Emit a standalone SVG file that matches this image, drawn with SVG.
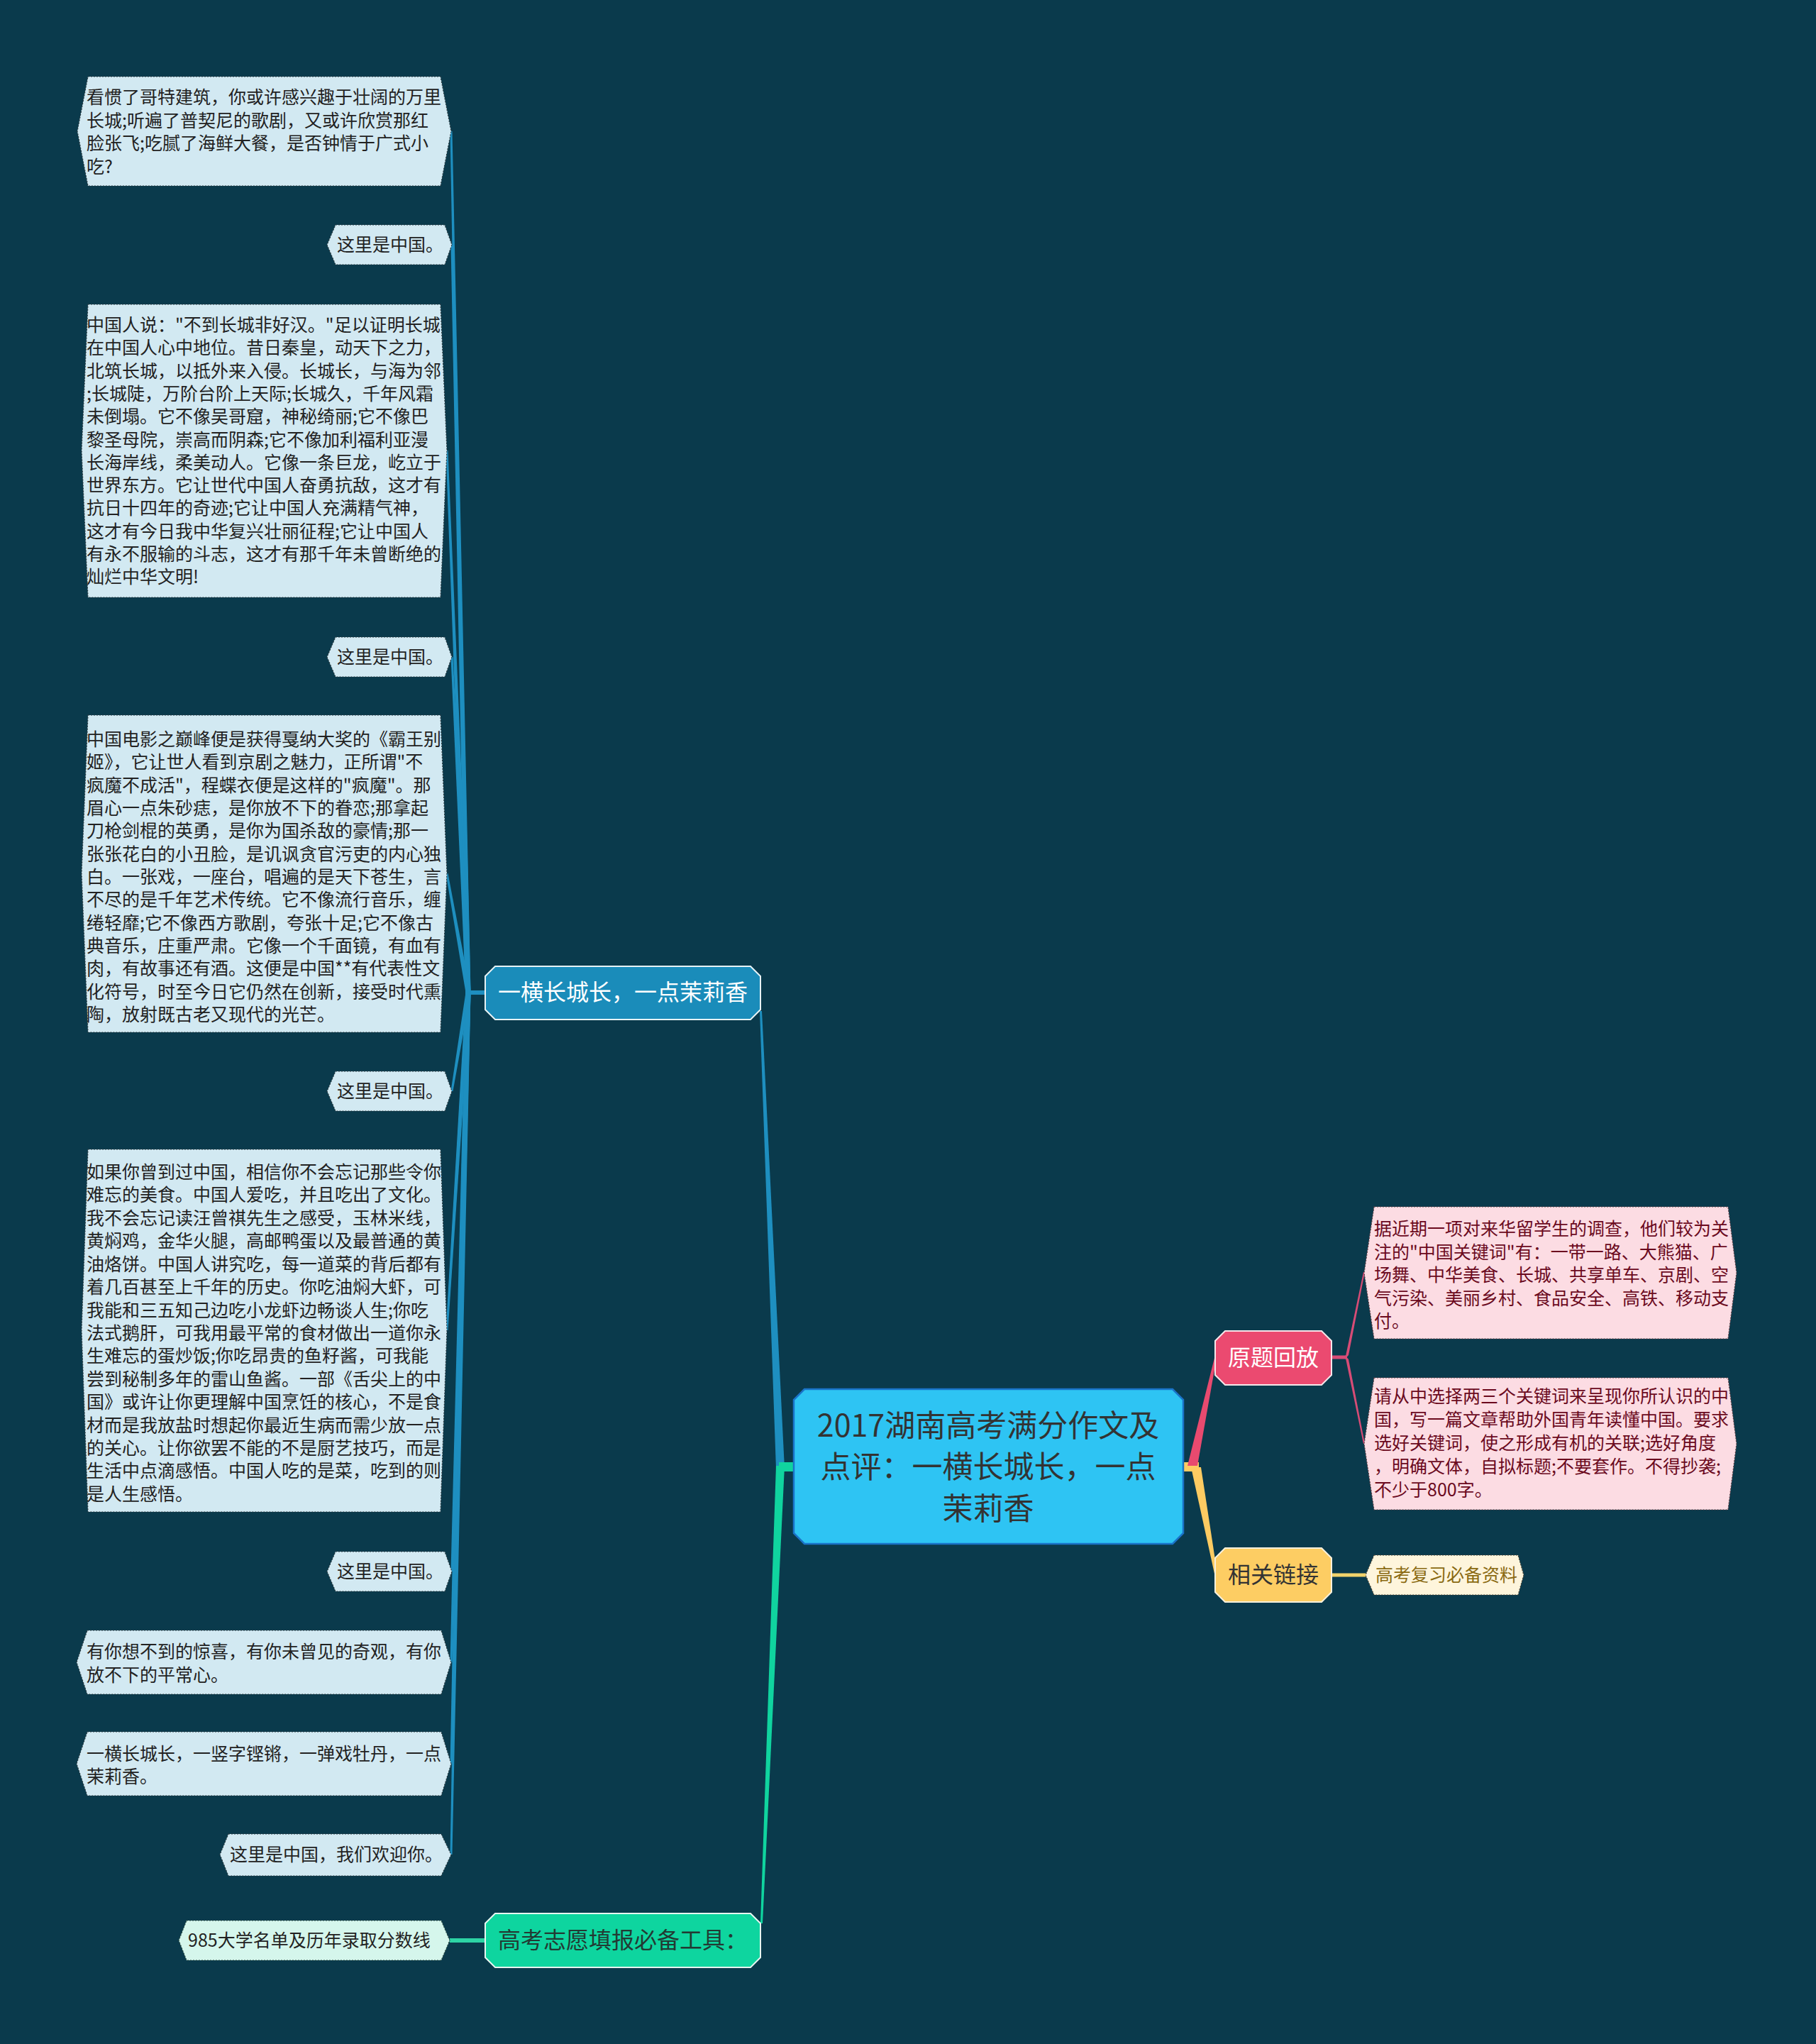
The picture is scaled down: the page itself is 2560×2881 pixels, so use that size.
<svg xmlns="http://www.w3.org/2000/svg" width="2560" height="2881" viewBox="0 0 2560 2881">
<style>
text{font-family:"Noto Sans CJK SC","Noto Sans",sans-serif}
.leaf{fill:#D2E9F2;stroke:#2a3a40;stroke-width:1.2;stroke-dasharray:2 2}
.lt{font-size:25px;fill:#222}
.pink{fill:#FCDCE3;stroke:#5a3a40;stroke-width:1.2;stroke-dasharray:2 2}
.pt{font-size:25px;fill:#6B0A1E}
.cream{fill:#FEF5DC;stroke:#4a4030;stroke-width:1.2;stroke-dasharray:2 2}
.mint{fill:#D5F6EC;stroke:#2a4a40;stroke-width:1.2;stroke-dasharray:2 2}
.bt{font-size:32px;text-anchor:middle}
.bl{fill:#1E8FC0}
</style>
<rect x="0" y="0" width="2560" height="2881" fill="#0A3A4C"/>
<g id="connectors">
  <polygon points="1094,2070 1106,2070 1074,1425 1071,1425" fill="#1E8FC0"/>
  <polygon points="1094,2066 1106,2066 1075,2711 1072,2711" fill="#10D49F"/>
  <rect x="1098" y="2061" width="22" height="13" fill="#10D49F"/>
  <rect x="1667" y="2061" width="23" height="13" fill="#FDCB62"/>
  <polygon points="1674,2066 1688,2066 1715,1914 1712,1914" fill="#E84A6F"/>
  <polygon points="1679,2068 1693,2068 1716,2218 1712,2218" fill="#FDCB62"/>
  <line x1="1877" y1="2220" x2="1926" y2="2220" stroke="#F2D36B" stroke-width="5"/>
  <line x1="1877" y1="1913" x2="1899" y2="1913" stroke="#D84C76" stroke-width="5"/>
  <polygon points="1896,1916 1901,1910 1924,1793 1922,1793" fill="#D84C76"/>
  <polygon points="1896,1910 1901,1916 1924,2035 1922,2035" fill="#D84C76"/>
  <line x1="634" y1="2735" x2="685" y2="2735" stroke="#2DD4A5" stroke-width="6"/>
  <line x1="657" y1="1399" x2="685" y2="1399" stroke="#1E8FC0" stroke-width="6"/>
  <polygon class="bl" points="656.5,1399 663.5,1399 637.5,185 634.5,185"/>
  <polygon class="bl" points="656.5,1399 663.5,1399 638.5,345 635.5,345"/>
  <polygon class="bl" points="656.5,1399 663.5,1399 631.5,635 628.5,635"/>
  <polygon class="bl" points="656.5,1399 663.5,1399 638.5,926 635.5,926"/>
  <polygon class="bl" points="656.5,1399 663.5,1399 631.5,1231 628.5,1231"/>
  <polygon class="bl" points="656.5,1399 663.5,1399 638.5,1538 635.5,1538"/>
  <polygon class="bl" points="656.5,1399 663.5,1399 631.5,1875 628.5,1875"/>
  <polygon class="bl" points="656.5,1399 663.5,1399 638.5,2215 635.5,2215"/>
  <polygon class="bl" points="656.5,1399 663.5,1399 637.5,2343 634.5,2343"/>
  <polygon class="bl" points="656.5,1399 663.5,1399 637.5,2486 634.5,2486"/>
  <polygon class="bl" points="656.5,1399 663.5,1399 637.5,2614 634.5,2614"/>
</g>
<g id="root">
  <polygon points="1134,1958 1653,1958 1668,1973 1668,2161 1653,2176 1134,2176 1119,2161 1119,1973" fill="#2EC4F3" stroke="#1A73C8" stroke-width="2.5"/>
  <text x="1393" y="2025" font-size="43" fill="#333" text-anchor="middle">2017湖南高考满分作文及<tspan x="1393" y="2083">点评：一横长城长，一点</tspan><tspan x="1393" y="2142">茉莉香</tspan></text>
</g>
<g id="branch-great-wall">
  <polygon points="698,1362 1058,1362 1072,1376 1072,1423 1058,1437 698,1437 684,1423 684,1376" fill="#1A8CBA" stroke="#E6F2F5" stroke-width="2"/>
  <text class="bt" x="878" y="1410" fill="#FFFFFF">一横长城长，一点茉莉香</text>
</g>
<g id="branch-tools">
  <polygon points="698,2697 1058,2697 1072,2711 1072,2759 1058,2773 698,2773 684,2759 684,2711" fill="#0ED59F" stroke="#E6F5F0" stroke-width="2"/>
  <text class="bt" x="878" y="2746" fill="#223a33">高考志愿填报必备工具：</text>
</g>
<g id="branch-original">
  <polygon points="1727,1876 1863,1876 1877,1890 1877,1938 1863,1952 1727,1952 1713,1938 1713,1890" fill="#EB4A70" stroke="#F5E6EA" stroke-width="2"/>
  <text class="bt" x="1795" y="1925" fill="#FFFFFF">原题回放</text>
</g>
<g id="branch-links">
  <polygon points="1727,2182 1863,2182 1877,2196 1877,2244 1863,2258 1727,2258 1713,2244 1713,2196" fill="#FDCD63" stroke="#F8F0DC" stroke-width="2"/>
  <text class="bt" x="1795" y="2231" fill="#333">相关链接</text>
</g>
<g id="leaf-1">
  <polygon class="leaf" points="124,108 621,108 636,185 621,262 124,262 109,185"/>
  <text class="lt" x="122" y="146">看惯了哥特建筑，你或许感兴趣于壮阔的万里<tspan x="122" y="178.5">长城;听遍了普契尼的歌剧，又或许欣赏那红</tspan><tspan x="122" y="211">脸张飞;吃腻了海鲜大餐，是否钟情于广式小</tspan><tspan x="122" y="243.5">吃?</tspan></text>
</g>
<g id="leaf-2">
  <polygon class="leaf" points="473,317 627,317 637,345 627,373 473,373 461,345"/>
  <text class="lt" x="475" y="354">这里是中国。</text>
</g>
<g id="leaf-3">
  <polygon class="leaf" points="124,429 621,429 630,635 621,842 124,842 115,635"/>
  <text class="lt" x="122" y="467">中国人说："不到长城非好汉。"足以证明长城<tspan x="122" y="499">在中国人心中地位。昔日秦皇，动天下之力，</tspan><tspan x="122" y="532">北筑长城，以抵外来入侵。长城长，与海为邻</tspan><tspan x="122" y="564">;长城陡，万阶台阶上天际;长城久，千年风霜</tspan><tspan x="122" y="596">未倒塌。它不像吴哥窟，神秘绮丽;它不像巴</tspan><tspan x="122" y="629">黎圣母院，崇高而阴森;它不像加利福利亚漫</tspan><tspan x="122" y="661">长海岸线，柔美动人。它像一条巨龙，屹立于</tspan><tspan x="122" y="693">世界东方。它让世代中国人奋勇抗敌，这才有</tspan><tspan x="122" y="725">抗日十四年的奇迹;它让中国人充满精气神，</tspan><tspan x="122" y="758">这才有今日我中华复兴壮丽征程;它让中国人</tspan><tspan x="122" y="790">有永不服输的斗志，这才有那千年未曾断绝的</tspan><tspan x="122" y="822">灿烂中华文明!</tspan></text>
</g>
<g id="leaf-4">
  <polygon class="leaf" points="473,898 627,898 637,926 627,954 473,954 461,926"/>
  <text class="lt" x="475" y="935">这里是中国。</text>
</g>
<g id="leaf-5">
  <polygon class="leaf" points="124,1008 621,1008 630,1231 621,1455 124,1455 115,1231"/>
  <text class="lt" x="122" y="1051">中国电影之巅峰便是获得戛纳大奖的《霸王别<tspan x="122" y="1083">姬》，它让世人看到京剧之魅力，正所谓"不</tspan><tspan x="122" y="1116">疯魔不成活"，程蝶衣便是这样的"疯魔"。那</tspan><tspan x="122" y="1148">眉心一点朱砂痣，是你放不下的眷恋;那拿起</tspan><tspan x="122" y="1180">刀枪剑棍的英勇，是你为国杀敌的豪情;那一</tspan><tspan x="122" y="1213">张张花白的小丑脸，是讥讽贪官污吏的内心独</tspan><tspan x="122" y="1245">白。一张戏，一座台，唱遍的是天下苍生，言</tspan><tspan x="122" y="1277">不尽的是千年艺术传统。它不像流行音乐，缠</tspan><tspan x="122" y="1310">绻轻靡;它不像西方歌剧，夸张十足;它不像古</tspan><tspan x="122" y="1342">典音乐，庄重严肃。它像一个千面镜，有血有</tspan><tspan x="122" y="1374">肉，有故事还有酒。这便是中国**有代表性文</tspan><tspan x="122" y="1407">化符号，时至今日它仍然在创新，接受时代熏</tspan><tspan x="122" y="1439">陶，放射既古老又现代的光芒。</tspan></text>
</g>
<g id="leaf-6">
  <polygon class="leaf" points="473,1510 627,1510 637,1538 627,1566 473,1566 461,1538"/>
  <text class="lt" x="475" y="1547">这里是中国。</text>
</g>
<g id="leaf-7">
  <polygon class="leaf" points="124,1620 621,1620 630,1875 621,2131 124,2131 115,1875"/>
  <text class="lt" x="122" y="1661">如果你曾到过中国，相信你不会忘记那些令你<tspan x="122" y="1693">难忘的美食。中国人爱吃，并且吃出了文化。</tspan><tspan x="122" y="1726">我不会忘记读汪曾祺先生之感受，玉林米线，</tspan><tspan x="122" y="1758">黄焖鸡，金华火腿，高邮鸭蛋以及最普通的黄</tspan><tspan x="122" y="1791">油烙饼。中国人讲究吃，每一道菜的背后都有</tspan><tspan x="122" y="1823">着几百甚至上千年的历史。你吃油焖大虾，可</tspan><tspan x="122" y="1856">我能和三五知己边吃小龙虾边畅谈人生;你吃</tspan><tspan x="122" y="1888">法式鹅肝，可我用最平常的食材做出一道你永</tspan><tspan x="122" y="1920">生难忘的蛋炒饭;你吃昂贵的鱼籽酱，可我能</tspan><tspan x="122" y="1953">尝到秘制多年的雷山鱼酱。一部《舌尖上的中</tspan><tspan x="122" y="1985">国》或许让你更理解中国烹饪的核心，不是食</tspan><tspan x="122" y="2018">材而是我放盐时想起你最近生病而需少放一点</tspan><tspan x="122" y="2050">的关心。让你欲罢不能的不是厨艺技巧，而是</tspan><tspan x="122" y="2082">生活中点滴感悟。中国人吃的是菜，吃到的则</tspan><tspan x="122" y="2115">是人生感悟。</tspan></text>
</g>
<g id="leaf-8">
  <polygon class="leaf" points="473,2187 627,2187 637,2215 627,2243 473,2243 461,2215"/>
  <text class="lt" x="475" y="2224">这里是中国。</text>
</g>
<g id="leaf-9">
  <polygon class="leaf" points="123,2298 622,2298 636,2343 622,2388 123,2388 108,2343"/>
  <text class="lt" x="122" y="2337">有你想不到的惊喜，有你未曾见的奇观，有你<tspan x="122" y="2370">放不下的平常心。</tspan></text>
</g>
<g id="leaf-10">
  <polygon class="leaf" points="123,2441 622,2441 636,2486 622,2531 123,2531 108,2486"/>
  <text class="lt" x="122" y="2481">一横长城长，一竖字铿锵，一弹戏牡丹，一点<tspan x="122" y="2513">茉莉香。</tspan></text>
</g>
<g id="leaf-11">
  <polygon class="leaf" points="322,2585 622,2585 636,2614 622,2644 322,2644 310,2614"/>
  <text class="lt" x="324" y="2623">这里是中国，我们欢迎你。</text>
</g>
<g id="leaf-985">
  <polygon class="mint" points="263,2707 622,2707 634,2735 622,2763 263,2763 252,2735"/>
  <text class="lt" x="265" y="2744">985大学名单及历年录取分数线</text>
</g>
<g id="leaf-survey">
  <polygon class="pink" points="1937,1701 2436,1701 2448,1794 2436,1887 1937,1887 1923,1794"/>
  <text class="pt" x="1937" y="1741">据近期一项对来华留学生的调查，他们较为关<tspan x="1937" y="1773.5">注的"中国关键词"有：一带一路、大熊猫、广</tspan><tspan x="1937" y="1806">场舞、中华美食、长城、共享单车、京剧、空</tspan><tspan x="1937" y="1838.5">气污染、美丽乡村、食品安全、高铁、移动支</tspan><tspan x="1937" y="1871">付。</tspan></text>
</g>
<g id="leaf-task">
  <polygon class="pink" points="1937,1942 2436,1942 2448,2035 2436,2128 1937,2128 1923,2035"/>
  <text class="pt" x="1937" y="1977">请从中选择两三个关键词来呈现你所认识的中<tspan x="1937" y="2010">国，写一篇文章帮助外国青年读懂中国。要求</tspan><tspan x="1937" y="2043">选好关键词，使之形成有机的关联;选好角度</tspan><tspan x="1937" y="2076">，明确文体，自拟标题;不要套作。不得抄袭;</tspan><tspan x="1937" y="2109">不少于800字。</tspan></text>
</g>
<g id="leaf-review">
  <polygon class="cream" points="1937,2192 2140,2192 2148,2220 2140,2248 1937,2248 1925,2220"/>
  <text x="1939" y="2229" font-size="25" fill="#8A6A12">高考复习必备资料</text>
</g>
</svg>
